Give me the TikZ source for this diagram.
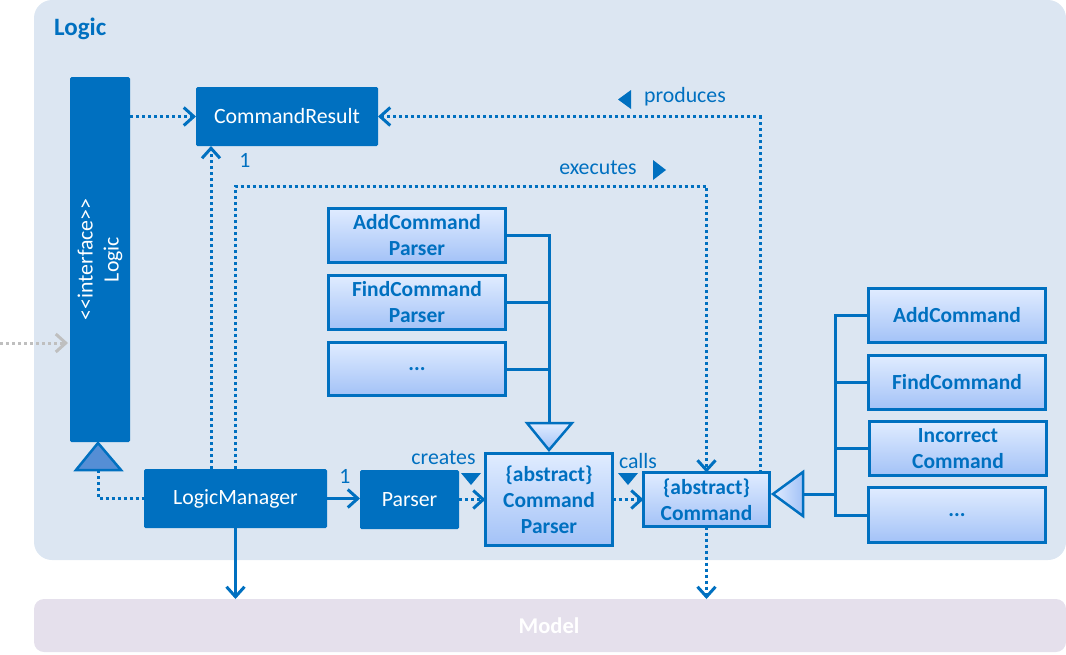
\documentclass[tikz,border=0pt]{standalone}
\usepackage{fontspec}
\setmainfont{Carlito}
\usetikzlibrary{arrows.meta,calc}
\definecolor{myblue}{HTML}{0070C0}
\definecolor{bgblue}{HTML}{DCE6F2}
\definecolor{modelbg}{HTML}{E5E0EC}
\definecolor{trifill}{HTML}{558ED5}
\definecolor{gtop}{HTML}{E0ECFF}
\definecolor{gbot}{HTML}{A3C2F7}
\definecolor{grayline}{HTML}{BFBFBF}
\tikzset{
  txt/.style={font=\fontsize{21.8}{26}\selectfont},
  darkbox/.style={txt, fill=myblue, draw=none, text=white, rounded corners=1.5pt, inner sep=0pt, outer sep=0pt, align=center},
  gradbox/.style={font=\bfseries\fontsize{21.5}{26}\selectfont, top color=gtop, bottom color=gbot, draw=myblue, line width=3pt, text=myblue, inner sep=0pt, outer sep=0pt, align=center},
  solidline/.style={draw=myblue, line width=3pt},
  dotline/.style={draw=myblue, line width=3pt, dash pattern=on 3pt off 3pt},
  openarrow/.style={-{Straight Barb[length=10pt,width=18pt]}},
  lbl/.style={txt, text=myblue, inner sep=0pt},
  tinytri/.style={fill=myblue, draw=none}
}
\begin{document}
\begin{tikzpicture}[x=1pt,y=-1pt]
\useasboundingbox (0,0) rectangle (1066,654);
% packages
\fill[bgblue, rounded corners=18pt] (34,0) rectangle (1066,560);
\fill[modelbg, rounded corners=10pt] (34,599) rectangle (1066,652);
\node[font=\bfseries\fontsize{25}{29}\selectfont, text=myblue, anchor=west, inner sep=0pt] (title) at (54,29) {Logic};
\node[font=\bfseries\fontsize{22.5}{26}\selectfont, text=white, inner sep=0pt] (model) at (549,626) {Model};
\coordinate (modeltop) at (548,599);

% dark nodes
\node[darkbox, minimum width=60pt, minimum height=365pt] (iface) at (100,259.5) {};
\node[txt, text=white, rotate=90, align=center, inner sep=0pt] (ifacetext) at (100,259.5) {<{}<interface>{}>\\Logic};
\node[darkbox, minimum width=182pt, minimum height=59pt] (cr) at (287,116.5) {CommandResult};
\node[darkbox, minimum width=183pt, minimum height=59pt] (lm) at (235.5,498.5) {LogicManager};
\node[darkbox, minimum width=99pt, minimum height=59pt] (parser) at (409.5,499.5) {Parser};

% gradient nodes
\node[gradbox, minimum width=127pt, minimum height=92pt] (cp) at (549,499.5) {\{abstract\}\\Command\\Parser};
\node[gradbox, minimum width=126pt, minimum height=54pt] (cmd) at (706.5,499.5) {\{abstract\}\\Command};
\node[gradbox, minimum width=177pt, minimum height=54pt] (acp) at (417,235.5) {AddCommand\\Parser};
\node[gradbox, minimum width=177pt, minimum height=54pt] (fcp) at (417,302.5) {FindCommand\\Parser};
\node[gradbox, minimum width=177pt, minimum height=53pt] (dcp) at (417,369) {...};
\node[gradbox, minimum width=177pt, minimum height=54pt] (ac) at (957,315.5) {AddCommand};
\node[gradbox, minimum width=177pt, minimum height=54pt] (fc) at (957,382.5) {FindCommand};
\node[gradbox, minimum width=177pt, minimum height=54pt] (ic) at (958,448.5) {Incorrect\\Command};
\node[gradbox, minimum width=177pt, minimum height=55pt] (dc) at (957,515) {...};

% realization triangle under interface
\draw[draw=myblue, line width=2.5pt, fill=trifill, line join=miter] (98,443) -- (121,470) -- (76,470) -- cycle;
\coordinate (ib) at (98,470);
\draw[dotline] (ib) |- (lm.west);

% external gray arrow
\coordinate (ext) at (0,343);
\draw[draw=grayline, line width=3pt, dash pattern=on 3pt off 3pt, openarrow] (ext) -- ([xshift=-2pt]iface.west |- ext);

% interface -> CommandResult
\draw[dotline, openarrow] (iface.east |- cr.west) -- (cr.west);
% LogicManager -> CommandResult
\draw[dotline, openarrow] ([xshift=-24.5pt]lm.north) -- ([xshift=-24.5pt]lm.north |- cr.south);
\node[lbl] (one1) at (245,160) {1};
% executes
\coordinate (exc) at (400,186);
\draw[dotline, openarrow] (lm.north) |- (exc) -| (cmd.north);
\node[lbl] (exlbl) at (598,168) {executes};
\fill[tinytri] (653,160) -- (666,170) -- (653,180) -- cycle;
% produces
\draw[dotline, openarrow] ([xshift=53.5pt]cmd.north) |- (cr.east);
\node[lbl] (prlbl) at (685,97) {produces};
\fill[tinytri] (631,90) -- (618,99.5) -- (631,109) -- cycle;

% LogicManager -> Parser
\draw[solidline, openarrow] (lm.east) -- (lm.east -| parser.west);
\node[lbl] (one2) at (345,476) {1};
% Parser -> CommandParser
\draw[dotline, openarrow] (parser.east) -- (parser.east -| cp.west);
\node[lbl] (crlbl) at (443.5,458) {creates};
\fill[tinytri] (461,473) -- (481,473) -- (471,485) -- cycle;
% CommandParser -> Command
\draw[dotline, openarrow] (cp.east) -- (cp.east -| cmd.west);
\node[lbl] (calbl) at (638,461) {calls};
\fill[tinytri] (618,473) -- (638,473) -- (628,485) -- cycle;

% parser inheritance
\coordinate (pbus) at (549,423);
\draw[solidline] (acp.east) -- (acp.east -| pbus) -- (pbus);
\draw[solidline] (fcp.east) -- (fcp.east -| pbus);
\draw[solidline] (dcp.east) -- (dcp.east -| pbus);
\draw[draw=myblue, line width=2.5pt, top color=gtop, bottom color=gbot, line join=miter] (527,423) -- (572,423) -- (549,450) -- cycle;

% command inheritance
\coordinate (cbus) at (835,494);
\draw[solidline] (803,494) -- (cbus);
\draw[solidline] (ac.west) -- (ac.west -| cbus) -- (dc.west -| cbus) -- (dc.west);
\draw[solidline] (fc.west) -- (fc.west -| cbus);
\draw[solidline] (ic.west) -- (ic.west -| cbus);
\draw[draw=myblue, line width=2.5pt, left color=gtop, right color=gbot, line join=miter] (773,494) -- (803,472) -- (803,516) -- cycle;

% to Model
\draw[solidline, openarrow] (lm.south) -- (lm.south |- modeltop);
\draw[dotline, openarrow] (cmd.south) -- (cmd.south |- modeltop);
\end{tikzpicture}
\end{document}
